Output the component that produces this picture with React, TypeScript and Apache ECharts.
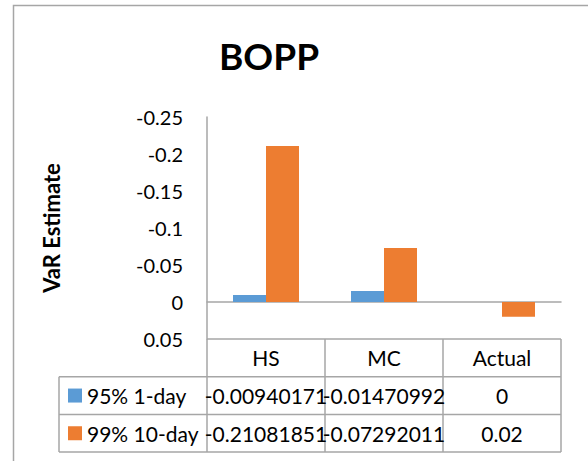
import React, { useEffect, useRef } from "react";
import * as echarts from "echarts";

const title = "BOPP";
const yAxisName = "VaR Estimate";
const categories = ["HS", "MC", "Actual"];
const seriesNames = ["95% 1-day", "99% 10-day"];
const var95 = [-0.00940171, -0.01470992, 0];
const var99 = [-0.21081851, -0.07292011, 0.02];
const yMin = -0.25;
const yMax = 0.05;
const yInterval = 0.05;
const colors = ["#5b9bd5", "#ed7d31"];

const FONT = "Lato, 'Open Sans', sans-serif";
const GRID_LEFT = 207;
const GRID_TOP = 117;
const GRID_RIGHT_X = 561;
const GRID_BOTTOM_Y = 339;
const ROW_H = 37.7;
const TABLE_LEFT = 59;
const LINE = "#a6a6a6";

export default function App() {
  const ref = useRef<HTMLDivElement>(null);
  useEffect(() => {
    if (!ref.current) return;
    const chart = echarts.init(ref.current, undefined, { renderer: "svg" });
    const seriesData = [var95, var99];
    chart.setOption({
      animation: false,
      backgroundColor: "#ffffff",
      title: {
        text: title,
        left: 219,
        top: 37,
        padding: 0,
        textStyle: { fontFamily: FONT, fontWeight: "bold", fontSize: 37, color: "#000" },
      },
      grid: {
        left: GRID_LEFT,
        top: GRID_TOP,
        width: GRID_RIGHT_X - GRID_LEFT,
        height: GRID_BOTTOM_Y - GRID_TOP,
      },
      xAxis: {
        type: "category",
        data: categories,
        axisLine: { show: true, onZero: true, lineStyle: { color: LINE, width: 1.5 } },
        axisTick: { show: false },
        axisLabel: { show: false },
        splitLine: { show: false },
      },
      yAxis: {
        type: "value",
        inverse: true,
        min: yMin,
        max: yMax,
        interval: yInterval,
        name: yAxisName,
        nameLocation: "middle",
        nameRotate: 90,
        nameGap: 145,
        nameTextStyle: { fontFamily: FONT, fontWeight: "bold", fontSize: 22, color: "#000" },
        axisLine: { show: true, lineStyle: { color: LINE, width: 1.5 } },
        axisTick: { show: false },
        splitLine: { show: false },
        axisLabel: {
          margin: 24,
          fontFamily: FONT,
          fontSize: 20,
          color: "#000",
          formatter: (v: number) => String(+v.toFixed(2)),
        },
      },
      series: seriesNames.map((name, i) => ({
        type: "bar",
        name,
        data: seriesData[i],
        barWidth: 33,
        barGap: "0%",
        itemStyle: { color: colors[i] },
      })),
    });

    // data table drawn under the plot, aligned with the category axis
    const centers = categories.map((_, i) => chart.convertToPixel({ xAxisIndex: 0 }, i) as number);
    const band = (GRID_RIGHT_X - GRID_LEFT) / categories.length;
    const colEdges = [GRID_LEFT, ...centers.map((c) => c + band / 2)];
    const rowTop = GRID_BOTTOM_Y;
    const r1 = rowTop + ROW_H;
    const r2 = r1 + ROW_H;
    const r3 = r2 + ROW_H;
    const g: any[] = [];
    const ln = (x1: number, y1: number, x2: number, y2: number) =>
      g.push({
        type: "line",
        shape: { x1, y1, x2, y2 },
        style: { stroke: LINE, lineWidth: 1.5 },
        silent: true,
      });
    // outer chart border
    g.push({
      type: "rect",
      shape: { x: 13.5, y: 5.5, width: 700, height: 600 },
      style: { fill: "none", stroke: LINE, lineWidth: 1.5 },
      silent: true,
    });
    ln(GRID_LEFT, rowTop, GRID_RIGHT_X, rowTop);
    ln(TABLE_LEFT, r1, GRID_RIGHT_X, r1);
    ln(TABLE_LEFT, r2, GRID_RIGHT_X, r2);
    ln(TABLE_LEFT, r3, GRID_RIGHT_X, r3);
    ln(TABLE_LEFT, r1, TABLE_LEFT, r3);
    colEdges.forEach((x) => ln(x, rowTop, x, r3));
    const txt = (text: string, x: number, y: number, align: string = "center") =>
      g.push({
        type: "text",
        x,
        y,
        style: {
          text,
          fill: "#000",
          font: `21px ${FONT}`,
          align,
          verticalAlign: "middle",
        },
        silent: true,
      });
    categories.forEach((c, i) => txt(c, centers[i], rowTop + ROW_H / 2));
    seriesNames.forEach((name, s) => {
      const yc = r1 + ROW_H * s + ROW_H / 2;
      g.push({
        type: "rect",
        shape: { x: 68, y: yc - 7, width: 14, height: 14 },
        style: { fill: colors[s] },
        silent: true,
      });
      txt(name, 87, yc, "left");
      seriesData[s].forEach((v, i) => txt(String(v), centers[i], yc));
    });
    chart.setOption({ graphic: g });
    return () => chart.dispose();
  }, []);
  return (
    <div
      ref={ref}
      style={{ position: "fixed", left: 0, top: 0, width: 588, height: 461, background: "#fff" }}
    />
  );
}
